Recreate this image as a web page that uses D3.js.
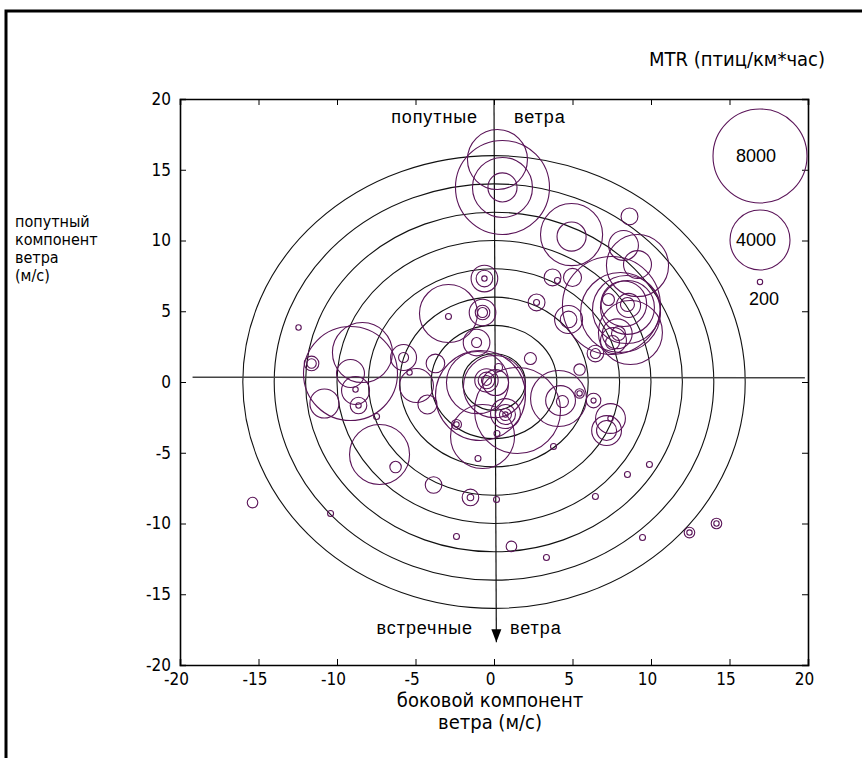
<!DOCTYPE html>
<html>
<head>
<meta charset="utf-8">
<script src="https://cdn.jsdelivr.net/npm/d3@7"></script>
<style>
  body { margin: 0; background: #fff; }
  .narrow { font-family: "DejaVu Sans Condensed", "Liberation Sans Narrow", sans-serif; }
  .reg { font-family: "Liberation Sans", Arial, sans-serif; }
</style>
</head>
<body>
<div id="chart"></div>
<script>
// оси
const xTicks = [-20, -15, -10, -5, 0, 5, 10, 15, 20]
const yTicks = [-20, -15, -10, -5, 0, 5, 10, 15, 20]
const ringRadii = [2, 4, 6, 8, 10, 12, 14, 16]
const legendValues = [8000, 4000, 200]
const hLine = [[-19.2, 0.33], [19.8, 0.3]]
const vLine = [[0.0, 20], [0.15, -18.4]]

// боковой компонент (м/с)
const sideWind = [
  0.22, 0.54, 0.54, 0.54, 4.94, 4.94, 8.63, 8.25, 9.14, 9.14,
  5.0, 3.73, 4.04, 2.71, 2.71, 4.75, 4.75,
  7.48, 8.06, 8.44, 8.50, 7.29, 8.5, 8.57, 8.69, 7.93, 7.61, 7.55, 6.46, 6.46, 5.45, 8.27, 7.85,
  -0.61, -0.61, -0.61, -0.73, -0.73, -0.73, -2.90, -2.9, -1.11, -1.11, -5.76, -5.76, -5.38, -3.73, -4.94, -4.24,
  -0.48, -0.48, -0.48, 0.1, -1.05, -0.86, 0.03, -0.73, 1.50, 4.11, 4.24, 4.36, 0.73, 0.73, 0.73, 0.73,
  -2.39, -2.39, 0.19, 2.32, 5.45, 5.45, 6.34, 6.34, 3.79, -1.02, -6.27, 7.42, 7.42, 7.17, 7.17, 0.29,
  -12.45, -11.62, -11.62, -9.14, -8.38, -9.14, -8.82, -8.82, -8.63, -8.63, -10.80, -7.48, -7.29,
  -15.38, -10.41, -3.85, -1.50, -1.50, -2.39,
  0.16, 1.11, 3.34, 6.46, 8.50, 9.90, 9.46, 12.45, 12.45, 14.17, 14.17
]
// попутный компонент (м/с)
const tailWind = [
  15.72, 13.75, 13.75, 13.75, 10.42, 10.28, 11.70, 9.65, 8.23, 8.30,
  7.39, 7.39, 7.17, 5.62, 5.62, 4.42, 4.42,
  5.41, 4.91, 5.12, 5.27, 5.83, 5.48, 5.41, 3.50, 3.43, 2.93, 2.79, 2.01, 2.01, 0.88, 5.53, 3.41,
  7.31, 7.31, 7.31, 4.91, 4.91, 4.91, 4.84, 4.63, 2.79, 2.79, 1.73, 1.73, 0.67, 1.31, -0.25, -1.59,
  0.11, 0.11, 0.11, -0.04, -0.04, -0.95, -0.32, -3.85, -2.01, -1.17, -1.31, -1.38, -2.30, -2.30, -2.30, -2.23,
  -3.00, -3.00, -3.64, 1.66, -0.81, -0.81, -1.31, -1.31, -4.56, -5.41, -6.01, -2.58, -2.58, -3.43, -3.43, 1.02,
  3.85, 1.31, 1.31, 0.60, 2.08, 0.60, -0.60, -0.53, -1.66, -1.66, -1.52, -2.44, -5.12,
  -8.52, -9.29, -7.28, -8.16, -8.16, -10.92,
  -8.30, -11.62, -12.40, -8.09, -6.54, -5.83, -10.99, -10.64, -10.64, -10.0, -10.0
]
// MTR (птиц/км*час)
const mtr = [
  4000, 8000, 4000, 1850, 4250, 1850, 1000, 1900, 4250, 1770,
  1080, 1000, 240, 1000, 240, 1770, 980,
  8470, 6350, 4940, 3580, 660, 800, 1500, 4470, 800, 1630, 800, 980, 520, 620, 3000, 1900,
  1680, 980, 200, 1680, 840, 520, 3860, 240, 1680, 520, 1630, 520, 200, 1120, 2190, 1150,
  520, 980, 1450, 1630, 4250, 7530, 4250, 4470, 7060, 3720, 1900, 660, 1220, 660, 200, 1900,
  520, 200, 240, 660, 480, 200, 840, 180, 240, 240, 620, 1900, 200, 1900, 1220, 380,
  200, 840, 480, 8000, 4000, 1770, 1770, 200, 980, 200, 1850, 240, 4000,
  560, 240, 980, 980, 280, 240,
  240, 560, 240, 240, 240, 240, 240, 560, 200, 560, 200
]

const width = 862
const height = 758
const margin = { top: 99, right: 54, bottom: 93, left: 180 }
const purple = '#5a1458'

const svg = d3.select('#chart').append('svg')
  .attr('width', width)
  .attr('height', height)

const x = d3.scaleLinear().domain([-20, 20]).range([margin.left, width - margin.right])
const y = d3.scaleLinear().domain([-20, 20]).range([height - margin.bottom, margin.top])
const size = d3.scaleLinear().domain([200, 4000, 8000]).range([2.7, 30, 47])

// рамка вокруг рисунка
svg.append('rect')
  .attr('x', 6).attr('y', 11)
  .attr('width', 900).attr('height', 800)
  .attr('fill', 'none').attr('stroke', '#000').attr('stroke-width', 3)

// кольца скорости ветра
svg.append('g').selectAll('ellipse')
  .data(ringRadii)
  .join('ellipse')
  .attr('cx', x(0)).attr('cy', y(0))
  .attr('rx', d => x(d) - x(0))
  .attr('ry', d => y(0) - y(d))
  .attr('fill', 'none').attr('stroke', '#111').attr('stroke-width', 1.1)

const line = d3.line().x(d => x(d[0])).y(d => y(d[1]))
svg.append('path').attr('d', line(hLine))
  .attr('stroke', '#444').attr('stroke-width', 1.5).attr('fill', 'none')
svg.append('path').attr('d', line(vLine))
  .attr('stroke', '#111').attr('stroke-width', 1.2).attr('fill', 'none')
const tip = vLine[1]
svg.append('path')
  .attr('d', `M${x(tip[0])},${y(tip[1])} l-5,-13 l10,0 z`)
  .attr('fill', '#000')

// данные
svg.append('g').selectAll('circle')
  .data(d3.range(mtr.length))
  .join('circle')
  .attr('cx', i => x(sideWind[i]))
  .attr('cy', i => y(tailWind[i]))
  .attr('r', i => size(mtr[i]))
  .attr('fill', 'none').attr('stroke', purple).attr('stroke-width', 1.1)

// оси с внутренними засечками
const fmt = d => String(d)
svg.append('g')
  .attr('transform', `translate(0,${y(-20)})`)
  .call(d3.axisBottom(x).tickValues(xTicks).tickSize(-6).tickPadding(8).tickFormat(fmt))
  .call(g => g.selectAll('text').attr('dx', -4))
svg.append('g')
  .attr('transform', `translate(0,${y(20)})`)
  .call(d3.axisTop(x).tickValues(xTicks).tickSize(-6).tickFormat(''))
svg.append('g')
  .attr('transform', `translate(${x(-20)},0)`)
  .call(d3.axisLeft(y).tickValues(yTicks).tickSize(-6).tickPadding(9).tickFormat(fmt))
svg.append('g')
  .attr('transform', `translate(${x(20)},0)`)
  .call(d3.axisRight(y).tickValues(yTicks).tickSize(-6).tickFormat(''))

svg.selectAll('.domain').attr('stroke', '#000').attr('stroke-width', 1.6)
svg.selectAll('.tick line').attr('stroke', '#000')
svg.selectAll('.tick text').attr('font-size', 17).attr('fill', '#000')
  .style('font-family', '"DejaVu Sans Condensed", sans-serif')

// подписи
const label = (txt, px, py, anchor, cls, fs, ls) => svg.append('text')
  .attr('x', px).attr('y', py).attr('text-anchor', anchor)
  .attr('class', cls).attr('font-size', fs).attr('fill', '#000')
  .attr('letter-spacing', ls || 0).text(txt)

label('попутные', 478, 123, 'end', 'reg', 18, 0.9)
label('ветра', 514, 123, 'start', 'reg', 18, 0.9)
label('встречные', 473, 634, 'end', 'reg', 18, 0.9)
label('ветра', 510, 634, 'start', 'reg', 18, 0.9)

label('боковой компонент', 490, 707, 'middle', 'narrow', 20)
label('ветра (м/с)', 490, 729, 'middle', 'narrow', 20)
;['попутный', 'компонент', 'ветра', '(м/с)'].forEach((t, i) => label(t, 15, 227 + i * 18, 'start', 'narrow', 16))

label('MTR (птиц/км*час)', 825, 66, 'end', 'narrow', 20)

// легенда
const legendY = [156, 240, 282]
const legendX = 760
svg.append('g').selectAll('circle')
  .data(legendValues)
  .join('circle')
  .attr('cx', legendX)
  .attr('cy', (d, i) => legendY[i])
  .attr('r', d => size(d))
  .attr('fill', 'none').attr('stroke', purple).attr('stroke-width', 1.1)
legendValues.forEach((v, i) => {
  const small = size(v) < 10
  label(v, small ? 764 : 756, small ? legendY[i] + 23 : legendY[i] + 6, 'middle', 'reg', 18)
})
</script>
</body>
</html>
